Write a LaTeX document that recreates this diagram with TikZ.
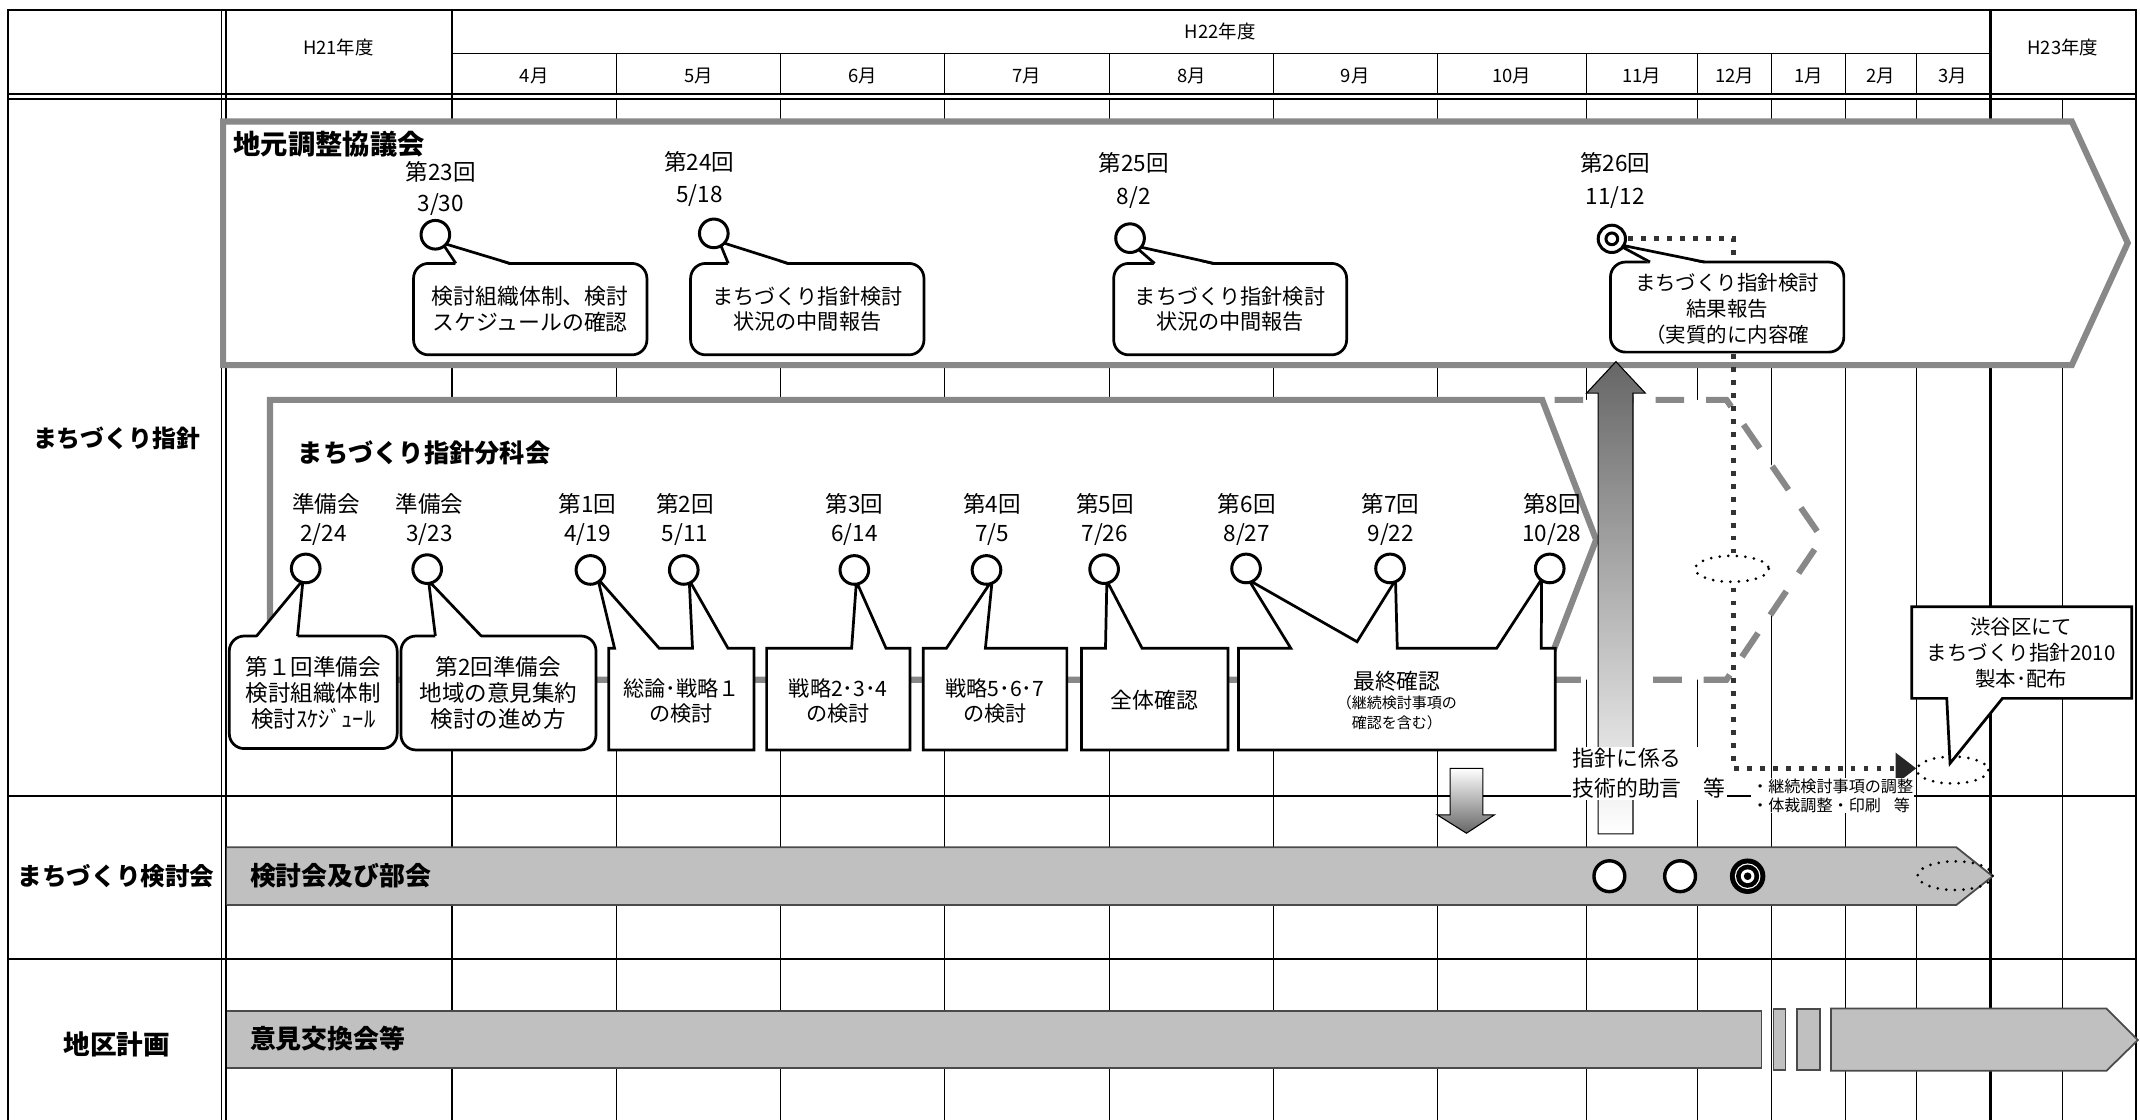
\documentclass[tikz,border=0pt]{standalone}
\usepackage{fontspec}
\setmainfont{Noto Sans CJK JP}
\definecolor{boxgray}{HTML}{888888}
\definecolor{barfill}{HTML}{C0C0C0}
\definecolor{baredge}{HTML}{4A4A4A}
\newcommand\fsz[2]{\fontsize{#1}{#2}\selectfont}
\newcommand\rptr[5]{% bx1 bx2 y tipx tipy : pointer of a rounded callout
  \fill[white] (#1,#3+1.3) -- (#4,#5) -- (#2,#3+1.3) -- cycle;
  \draw[line width=2pt, line join=miter] (#1,#3) -- (#4,#5) -- (#2,#3);}
\begin{document}
\begin{tikzpicture}[x=1pt,y=-1pt,
  lab/.style={inner sep=0pt, font=\fsz{16.5}{19}},
  hdr/.style={inner sep=0pt, font=\fsz{13.5}{16}},
  ctext/.style={inner sep=0pt, align=center, font=\fsz{15.5}{18.5}},
  cbox/.style={draw=black, line width=2pt, fill=white},
  rbox/.style={draw=black, line width=2pt, fill=white, rounded corners=11pt},
  gridline/.style={line width=0.8pt},
  circ/.style={draw=black, line width=2.2pt, fill=white},
  sqdot/.style={draw=black!80, line width=3.5pt, dash pattern=on 3.5pt off 6pt},
  rdot/.style={draw=black, line width=2.2pt, dash pattern=on 0pt off 6.3pt, line cap=round},
  bigbox/.style={draw=boxgray, line width=4.5pt, fill=white, line join=miter},
  rowlab/.style={inner sep=0pt, font=\bfseries\fsz{18}{21}},
  barlab/.style={inner sep=0pt, anchor=west, font=\bfseries\fsz{19}{22}},
  bar/.style={fill=barfill},
  baredge/.style={draw=baredge, line width=1.3pt}]
\useasboundingbox (0,0) rectangle (1568,820);
\fill[white] (0,0) rectangle (1568,820);

% ---------- table grid ----------
\draw[line width=1.5pt] (6,830) -- (6,7.5) -- (1565,7.5) -- (1565,830);
\draw[line width=0.9pt] (162.4,7.5) -- (162.4,830) (165.6,7.5) -- (165.6,830);
\draw[line width=1.2pt] (331,7.5) -- (331,830);
\draw[line width=1.6pt] (1458.5,7.5) -- (1458.5,830);
\draw[gridline] (331,39) -- (1458.5,39);
\foreach \x in {452,572,692,813,933,1053,1162.5,1244,1298,1352,1404}
  \draw[gridline] (\x,39) -- (\x,69);
\draw[line width=1.2pt] (6,69) -- (1565,69) (6,72.5) -- (1565,72.5);
\foreach \x in {452,572,692,813,933,1053,1162.5,1244,1298,1352,1404,1511.5}
  \draw[gridline] (\x,72.5) -- (\x,830);
\draw[line width=1.5pt] (6,583) -- (1565,583) (6,703) -- (1565,703);

% header texts
\node[hdr] (h21) at (248,35) {H21年度};
\node[hdr] (h22) at (894,23) {H22年度};
\node[hdr] (h23) at (1511.5,35) {H23年度};
\foreach \x/\m [count=\i] in {391.5/4月,512/5月,632/6月,752.5/7月,873/8月,993/9月,1107.5/10月,1203/11月,1271/12月,1325/1月,1378/2月,1431/3月}
  \node[hdr] (m\i) at (\x,56) {\m};

% row labels
\node[rowlab, font=\bfseries\fsz{17.5}{20}] (r1) at (85.5,321) {まちづくり指針};
\node[rowlab] (r2) at (85,642) {まちづくり検討会};
\node[rowlab, font=\bfseries\fsz{19.5}{22}] (r3) at (85.5,765) {地区計画};

% ---------- 地元調整協議会 ----------
\draw[bigbox] (163.5,89) -- (1518,89) -- (1559,178) -- (1518,267.5) -- (163.5,267.5) -- cycle;
\node[inner sep=0pt, anchor=west, font=\bfseries\fsz{20}{23}] (t1) at (171,105.5) {地元調整協議会};

% ---------- 分科会 (dashed extension, solid arrow) ----------
\fill[white] (1130,293) -- (1265,293) -- (1335,394.5) -- (1265,498) -- (1130,498) -- cycle;
\draw[boxgray, line width=4.5pt, dash pattern=on 21pt off 16pt] (1139,293) -- (1265,293) -- (1335,394.5) -- (1265,498) -- (1139,498);
\draw[bigbox] (197.8,293) -- (1130,293) -- (1169.5,395.5) -- (1130,498) -- (197.8,498) -- cycle;
\node[inner sep=0pt, anchor=west, font=\bfseries\fsz{18.5}{21}] (t2) at (218,332) {まちづくり指針分科会};

% ---------- dotted route from 第26回 ----------
\coordinate (d0) at (1193,175);
\coordinate (d1) at (1270,175);
\coordinate (d2) at (1270,563);
\coordinate (d3) at (1390,563);
\draw[sqdot] (d0) -- (d1) -- (d2) -- (d3);
\fill[black!85] (1389,551.5) -- (1404,563) -- (1389,574.5) -- cycle;
\draw[rdot, fill=white] (1269,416.8) ellipse [x radius=27, y radius=9.5];
\draw[rdot] (1430.6,564.2) ellipse [x radius=26.2, y radius=9.8];

% ---------- gradient arrows ----------
\draw[line width=0.8pt, top color=black!60, bottom color=white] (1171,611) -- (1171,288) -- (1162.5,288) -- (1184,265) -- (1205.5,288) -- (1196.5,288) -- (1196.5,611) -- cycle;
\draw[line width=0.8pt, top color=white, bottom color=black!60] (1062.5,563) -- (1086.5,563) -- (1086.5,597) -- (1095,597) -- (1074.5,610.5) -- (1053,597) -- (1062.5,597) -- cycle;
\node[fill=white, inner sep=1pt, anchor=west, align=left, font=\fsz{16}{22}] (adv) at (1151,566.5) {指針に係る\\技術的助言　等};
\node[fill=white, inner sep=0.6pt, anchor=north west, align=left, font=\fsz{11.8}{13.5}] (adj) at (1283,570) {・継続検討事項の調整\\・体裁調整・印刷\hspace{0.8em}等};

% ---------- top callouts ----------
\draw[rbox] (303,193) rectangle (474,260);   \rptr{334}{373.7}{193}{324}{178}
\draw[rbox] (506,193) rectangle (677,260);   \rptr{533.6}{577.5}{193}{527}{177}
\draw[rbox] (816,193) rectangle (986.7,260); \rptr{846}{889.5}{193}{831}{180}
\draw[rbox] (1180,192) rectangle (1351,258); \rptr{1209}{1249}{192}{1185}{179}
\node[ctext, font=\fsz{16}{18.5}] (k23) at (388.5,226.5) {検討組織体制、検討\\スケジュールの確認};
\node[ctext] (k24) at (591.5,226.5) {まちづくり指針検討\\状況の中間報告};
\node[ctext] (k25) at (901.3,226.5) {まちづくり指針検討\\状況の中間報告};
\node[ctext, font=\fsz{15}{19}] (k26) at (1265.5,226) {まちづくり指針検討\\結果報告\\（実質的に内容確};

\draw[circ] (319,172) circle (10.5);
\draw[circ] (523,171) circle (10.5);
\draw[circ] (828,174.5) circle (10.5);
\draw[circ] (1181,175) circle (10);
\draw[line width=2.2pt] (1181,175) circle (4.3);
\node[lab] (l23a) at (323,126) {第23回};   \node[lab] (l23b) at (323,150) {3/30};
\node[lab] (l24a) at (512.5,118.5) {第24回}; \node[lab] (l24b) at (512.5,143) {5/18};
\node[lab] (l25a) at (830.7,119.5) {第25回}; \node[lab] (l25b) at (830.7,145) {8/2};
\node[lab] (l26a) at (1183.5,119.5) {第26回}; \node[lab] (l26b) at (1183.5,145) {11/12};

% ---------- 分科会 callouts ----------
\draw[rbox] (168,466) rectangle (291,548.5);   \rptr{188}{218}{466}{222}{425}
\draw[rbox] (293.8,466) rectangle (436.7,549.5); \rptr{319}{352.6}{466}{314}{425.5}
\draw[cbox] (446,475) -- (450.3,475) -- (438,424) -- (483,475) -- (507.4,475) -- (505,425) -- (533.4,475) -- (552.5,475) -- (552.5,549.5) -- (446,549.5) -- cycle;
\draw[cbox] (561.7,475) -- (624,475) -- (627.5,426) -- (649.2,475) -- (666.8,475) -- (666.8,549.5) -- (561.7,549.5) -- cycle;
\draw[cbox] (676.5,475) -- (693.4,475) -- (727,425) -- (722,475) -- (781.7,475) -- (781.7,549.5) -- (676.5,549.5) -- cycle;
\draw[cbox] (792.4,475) -- (810,475) -- (811,425.5) -- (836.8,475) -- (899.8,475) -- (899.8,549.5) -- (792.4,549.5) -- cycle;
\draw[cbox] (907.4,475) -- (945.8,475) -- (915,425) -- (994.3,470.2) -- (1022.5,425) -- (1023.8,475) -- (1096.6,475) -- (1129.5,424.5) -- (1129.3,475) -- (1139.6,475) -- (1139.6,549.5) -- (907.4,549.5) -- cycle;

\node[ctext, font=\fsz{16.5}{19}] (b1) at (229.6,507.5) {第１回準備会\\検討組織体制\\検討ｽｹｼﾞｭｰﾙ};
\node[ctext, font=\fsz{16.5}{19}] (b2) at (365.2,507.5) {第2回準備会\\地域の意見集約\\検討の進め方};
\node[ctext, font=\fsz{15.5}{18.5}] (b3) at (499.2,513.5) {総論･戦略１\\の検討};
\node[ctext, font=\fsz{15.5}{18.5}] (b4) at (614.2,513.5) {戦略2･3･4\\の検討};
\node[ctext, font=\fsz{15.5}{18.5}] (b5) at (729,513.5) {戦略5･6･7\\の検討};
\node[ctext, font=\fsz{16}{19}] (b6) at (846,513) {全体確認};
\node[ctext, font=\fsz{16}{19}] (b7) at (1023.5,499.5) {最終確認};
\node[ctext, font=\fsz{11}{14.5}] (b7s) at (1023.5,522.5) {（継続検討事項の\\確認を含む）};

\foreach \cx/\cy in {224/416.5,313/417,432.6/417.6,501/417.6,626/417.6,722.8/417.6,809/417,913/416.5,1018.5/416.5,1135.5/416.5}
  \draw[circ] (\cx,\cy) circle (10.5);
\foreach \lx/\dx/\a/\b [count=\i] in {239/237/準備会/{2/24}, 314.8/314.8/準備会/{3/23}, 430.5/430.5/第1回/{4/19}, 502/502/第2回/{5/11}, 626/626/第3回/{6/14}, 727/727/第4回/{7/5}, 809.5/809.5/第5回/{7/26}, 913.5/913.5/第6回/{8/27}, 1019/1019/第7回/{9/22}, 1137/1137/第8回/{10/28}}
  {\node[lab] (sa\i) at (\lx,369.5) {\a}; \node[lab] (sb\i) at (\dx,391.5) {\b};}

% ---------- 渋谷区 callout ----------
\draw[cbox] (1400.8,444.5) -- (1561.9,444.5) -- (1561.9,511.7) -- (1467.2,511.7) -- (1428.8,559.3) -- (1426.4,511.7) -- (1400.8,511.7) -- cycle;
\node[ctext, font=\fsz{15}{19}] (b8) at (1481,478) {渋谷区にて\\まちづくり指針2010\\製本･配布};

% ---------- まちづくり検討会 bar ----------
\fill[bar] (166,620.8) -- (1433.4,620.8) -- (1460,642) -- (1433.4,663.1) -- (166,663.1) -- cycle;
\draw[baredge] (166,620.8) -- (1433.4,620.8) -- (1460,642) -- (1433.4,663.1) -- (166,663.1);
\node[barlab] (bl1) at (183,642) {検討会及び部会};
\draw[circ, line width=2.5pt] (1179.2,642) circle (11.3);
\draw[circ, line width=2.5pt] (1231,642) circle (11.3);
\fill[black] (1280.5,642) circle (13);
\fill[white] (1280.5,642) circle (9.4);
\fill[black] (1280.5,642) circle (8.5);
\fill[white] (1280.5,642) circle (5);
\fill[black] (1280.5,642) circle (2.8);
\draw[rdot] (1432.5,641.6) ellipse [x radius=27.5, y radius=10.5];

% ---------- 地区計画 bar ----------
\fill[bar] (166,740.5) rectangle (1290.7,782.8);
\draw[baredge] (166,740.5) -- (1290.7,740.5) -- (1290.7,782.8) -- (166,782.8);
\draw[baredge, fill=barfill] (1299.4,739.5) rectangle (1308.2,784);
\draw[baredge, fill=barfill] (1316.4,739.5) rectangle (1333.3,784);
\draw[baredge, fill=barfill] (1341.6,739) -- (1543.5,739) -- (1566.5,762) -- (1543.5,784.5) -- (1341.6,784.5) -- cycle;
\node[barlab] (bl2) at (183,761) {意見交換会等};
\end{tikzpicture}
\end{document}
